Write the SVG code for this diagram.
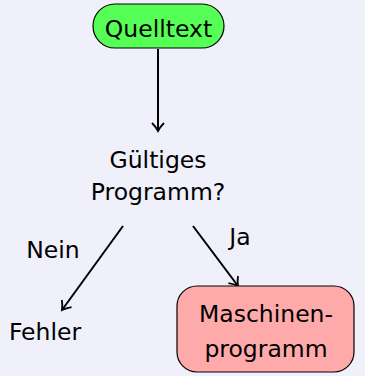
<svg xmlns="http://www.w3.org/2000/svg" width="365" height="376" viewBox="0 0 365 376">
<defs>
<style>
text{font-family:"DejaVu Sans","Liberation Sans",sans-serif;fill:#000;text-anchor:middle;font-size:23.5px}
.c{stroke:#000;stroke-width:2;fill:none}
</style>
<marker id="a" markerWidth="14" markerHeight="14" refX="10" refY="7" orient="auto" markerUnits="userSpaceOnUse">
<path d="M2,1 Q6,5 10,7 Q6,9 2,13" fill="none" stroke="#000" stroke-width="1.8"/>
</marker>
</defs>
<rect width="365" height="376" fill="#F0F0FA"/>
<g id="connectors">
<line class="c" x1="158" y1="49" x2="158" y2="131" marker-end="url(#a)"/>
<line class="c" x1="123" y1="226" x2="62" y2="310" marker-end="url(#a)"/>
<line class="c" x1="193" y1="226" x2="238" y2="286" marker-end="url(#a)"/>
<text x="53" y="258">Nein</text>
<text x="240" y="245">Ja</text>
</g>
<g id="quelltext">
<rect x="93" y="4" width="131" height="44" rx="22" fill="#55FF55" stroke="#000" stroke-width="1.2"/>
<text x="158.5" y="37">Quelltext</text>
</g>
<g id="gueltig">
<text x="158" y="168">Gültiges</text>
<text x="158" y="200">Programm?</text>
</g>
<g id="fehler">
<text x="45" y="340">Fehler</text>
</g>
<g id="maschinen">
<rect x="177" y="286" width="177" height="86" rx="20" fill="#FFAAAA" stroke="#000" stroke-width="1.2"/>
<text x="266" y="322">Maschinen-</text>
<text x="266" y="357">programm</text>
</g>
</svg>
